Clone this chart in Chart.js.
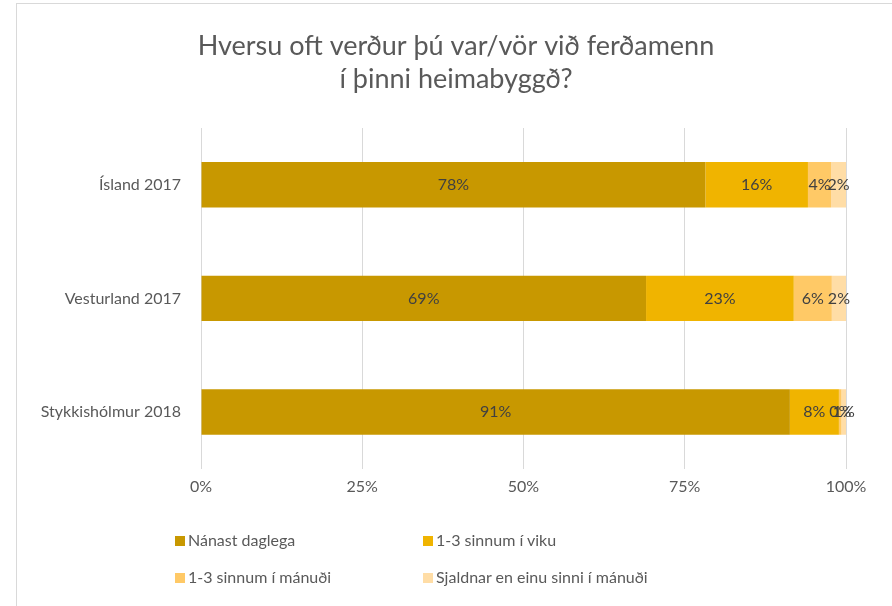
<!DOCTYPE html>
<html>
<head>
<meta charset="utf-8">
<script src="https://cdn.jsdelivr.net/npm/chart.js@4"></script>
<style>
  body { margin: 0; background: #fff; font-family: Lato, sans-serif; }
  #frame { position: absolute; left: 16px; top: 3px; width: 900px; height: 620px; border: 1px solid #d9d9d9; }
  #wrap { position: absolute; left: 0; top: 0; width: 892px; height: 606px; }
  #legend { position: absolute; left: 175px; top: 530px; width: 600px; color: #595959; font-size: 16px; }
  .item { position: absolute; white-space: nowrap; }
  .item span.box { display: inline-block; width: 10px; height: 10px; margin-right: 3px; vertical-align: 0px; }
</style>
</head>
<body>
<div id="frame"></div>
<div id="wrap"><canvas id="barChart" width="892" height="606"></canvas></div>
<div id="legend"></div>

<script>
// chart data
const places = ['Ísland 2017', 'Vesturland 2017', 'Stykkishólmur 2018'];
const seriesNames = ['Nánast daglega', '1-3 sinnum í viku', '1-3 sinnum í mánuði', 'Sjaldnar en einu sinni í mánuði'];
const daily   = [78.2, 69.0, 91.3];
const weekly  = [15.9, 22.9, 7.6];
const monthly = [3.6, 5.9, 0.4];
const rarely  = [2.3, 2.2, 0.7];
const tickLabels = ['0%', '25%', '50%', '75%', '100%'];
const titleLines = ['Hversu oft verður þú var/vör við ferðamenn', 'í þinni heimabyggð?'];

const colors = ['#C89800', '#F0B400', '#FFC966', '#FFDDA6'];
const series = [daily, weekly, monthly, rarely];

// labels inside the bars
const barLabels = {
  id: 'barLabels',
  afterDatasetsDraw(chart) {
    const ctx = chart.ctx;
    ctx.save();
    ctx.font = '16px Lato';
    ctx.fillStyle = '#404040';
    ctx.textAlign = 'center';
    ctx.textBaseline = 'middle';
    chart.data.datasets.forEach((ds, i) => {
      chart.getDatasetMeta(i).data.forEach((bar, j) => {
        const x = (bar.x + bar.base) / 2;
        ctx.fillText(Math.round(ds.data[j]) + '%', x, bar.y);
      });
    });
    ctx.restore();
  }
};

// title, centred on the frame rather than the canvas
const frameTitle = {
  id: 'frameTitle',
  afterDraw(chart) {
    const ctx = chart.ctx;
    ctx.save();
    ctx.font = '27px Lato';
    ctx.fillStyle = '#595959';
    ctx.textAlign = 'center';
    ctx.textBaseline = 'middle';
    titleLines.forEach((line, i) => ctx.fillText(line, 456, 46 + i * 33));
    ctx.restore();
  }
};

const ctx1 = document.getElementById('barChart').getContext('2d');
const myChart = new Chart(ctx1, {
  type: 'bar',
  data: {
    labels: places,
    datasets: series.map((s, i) => ({
      label: seriesNames[i],
      data: s,
      backgroundColor: colors[i],
      borderWidth: 0,
      barPercentage: 0.4,
      categoryPercentage: 1
    }))
  },
  options: {
    indexAxis: 'y',
    responsive: false,
    animation: false,
    layout: { padding: { left: 0, right: 46, top: 128, bottom: 102 } },
    plugins: {
      legend: { display: false },
      tooltip: { enabled: false },
      title: { display: false }
    },
    scales: {
      x: {
        stacked: true,
        min: 0,
        max: 100,
        ticks: {
          stepSize: 25,
          color: '#595959',
          font: { family: 'Lato', size: 16 },
          padding: 8,
          callback: (v, i) => tickLabels[i]
        },
        grid: { color: '#d9d9d9', drawTicks: false },
        border: { display: false }
      },
      y: {
        stacked: true,
        ticks: { color: '#595959', font: { family: 'Lato', size: 16 }, padding: 12 },
        grid: { display: false },
        border: { display: false },
        afterFit: (scale) => { scale.width = 201; }
      }
    }
  },
  plugins: [barLabels, frameTitle]
});

// legend, two columns
const legend = document.getElementById('legend');
seriesNames.forEach((name, i) => {
  const el = document.createElement('div');
  el.className = 'item';
  el.style.left = (i % 2 === 0 ? 0 : 248) + 'px';
  el.style.top = (Math.floor(i / 2) * 37) + 'px';
  el.innerHTML = '<span class="box" style="background:' + colors[i] + '"></span>' + name;
  legend.appendChild(el);
});
</script>
</body>
</html>
